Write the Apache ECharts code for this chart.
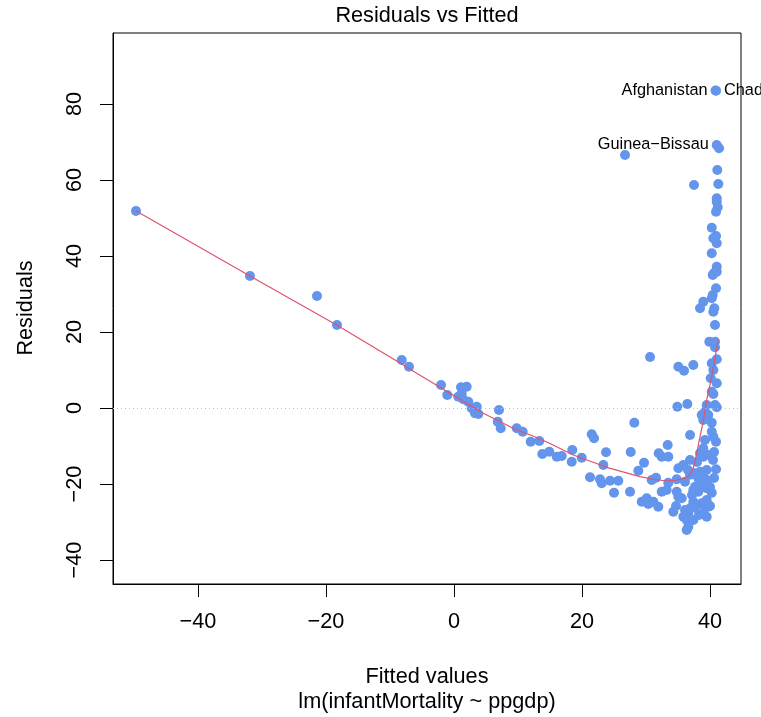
<!DOCTYPE html>
<html>
<head>
<meta charset="utf-8">
<script src="https://cdn.jsdelivr.net/npm/echarts@6/dist/echarts.min.js"></script>
<style>
  html, body { margin: 0; padding: 0; background: #fff; }
  #chart { width: 761px; height: 717px; }
</style>
</head>
<body>
<div id="chart"></div>
<script>
// Residuals vs fitted values for lm(infantMortality ~ ppgdp)

// Fitted values (x) and residuals (y) of the unlabelled observations
const fittedVals = [
  -49.69, -31.88, -21.41, -18.28, -8.17, -7.03, -2.03, -1.05, 1.09, 1.98,
  0.67, 1.20, 1.45, 2.23, 2.77, 3.55, 3.28, 3.80, 7.03, 6.83,
  7.30, 9.80, 10.73, 11.98, 13.33, 13.80, 14.89, 16.05, 16.83, 18.48,
  18.39, 19.95, 21.52, 21.88, 23.75, 23.33, 21.25, 22.81, 23.08, 24.38,
  25.67, 25.00, 27.50, 28.17, 27.61, 29.69, 28.80, 30.89, 31.56, 31.98,
  32.45, 33.48, 33.39, 29.33, 30.36, 31.14, 31.92, 32.45, 33.23, 33.48,
  34.80, 34.80, 35.05, 35.58, 34.27, 34.69, 34.89, 36.45, 36.88, 35.05,
  35.83, 36.88, 35.83, 36.61, 36.09, 36.88, 36.36, 36.61, 37.39, 37.39,
  38.70, 39.73, 38.95, 39.48, 37.39, 38.17, 40.27, 37.66, 38.70, 39.48,
  37.66, 38.17, 38.95, 39.48, 36.09, 40.94, 39.22, 38.95, 38.44, 40.27,
  40.52, 40.94, 38.95, 40.27, 38.70, 39.73, 39.48, 40.78, 41.05, 40.27,
  40.52, 40.11, 41.05, 40.52, 41.05, 40.27, 35.05, 35.94, 37.39, 39.89,
  40.78, 40.78, 40.78, 40.67, 40.52, 38.95, 38.44, 40.42, 40.27, 40.94,
  40.42, 41.05, 40.63, 41.05, 40.27, 40.94, 40.52, 41.05, 40.27, 41.20,
  40.94, 41.05, 41.05, 41.30, 37.50, 41.14, 41.41, 26.72, 30.63,
  38.95, 39.22, 30.11, 38.44, 36.88, 38.44, 39.48, 37.66, 38.95, 39.48,
  40.00, 36.36, 36.56, 37.19, 37.97, 39.84, 40.47, 40.63, 40.00, 38.28,
  40.63
];
const residVals = [
  51.84, 34.74, 29.47, 21.84, 12.63, 10.87, 6.05, 3.42, 5.45, 5.61,
  2.97, 3.87, 2.29, 1.66, -0.08, 0.34, -1.39, -1.58, -0.53, -3.61,
  -5.34, -5.34, -6.24, -8.87, -8.68, -12.11, -11.50, -12.82, -12.63, -11.05,
  -14.13, -13.08, -6.92, -7.97, -11.66, -15.00, -18.24, -18.76, -19.82, -19.13,
  -19.13, -22.29, -22.03, -3.87, -11.58, -14.39, -16.50, -18.95, -18.34, -11.92,
  -12.82, -12.82, -9.74, -24.66, -25.26, -24.66, -25.97, -22.03, -21.58, -19.66,
  -18.76, -22.03, -23.34, -23.76, -27.29, -25.79, 0.34, 1.05, -7.11, -15.87,
  -15.00, -13.68, -28.61, -27.71, -26.84, -26.39, -32.11, -31.24, -29.47, -24.66,
  -25.08, -25.97, -27.71, -28.61, -21.58, -22.03, -22.29, -20.71, -20.26, -21.13,
  -17.18, -18.50, -18.08, -18.95, -19.39, -16.13, -8.42, -10.61, -11.92, -6.24,
  -7.55, -8.87, -3.16, -3.87, -1.84, -1.84, 0.79, 0.79, 0.18, 4.29,
  3.68, 7.82, 6.50, 10.00, 12.82, 11.76, 10.87, 9.82, 11.32, 17.45,
  17.45, 15.97, 21.84, 26.24, 25.34, 27.97, 26.24, 29.74, 28.87, 31.50,
  35.00, 35.87, 35.50, 37.18, 40.71, 45.26, 44.66, 43.34, 47.45, 52.82,
  51.66, 55.18, 54.29, 58.95, 58.68, 62.63, 68.34, 66.58, 13.42,
  -12.82, -0.97, -23.76, -19.39, -17.55, -16.76, -16.32, -26.24, -25.53, -24.21,
  -25.79, -29.47, -16.32, -22.89, -14.21, -12.37, -13.68, -18.42, -20.79, -28.16,
  -11.58
];

// Observations with the largest residuals, named next to their points
const idNames = ['Afghanistan', 'Chad', 'Guinea\u2212Bissau'];
const idFitted = [40.86, 40.94, 41.05];
const idResid = [83.55, 83.50, 69.21];
const idSide = ['left', 'right', 'left'];

// Lowess smooth of residuals against fitted values
const smoothX = [
  -49.73, -31.88, -18.33, -9.22, -5.83, -0.63, 4.58, 9.80, 12.34, 15.00,
  18.64, 23.86, 29.06, 31.14, 33.23, 34.80, 36.09, 36.77, 37.30, 37.66,
  38.02, 38.44, 38.98, 39.48, 40.16, 41.30
];
const smoothY = [
  51.92, 34.74, 21.84, 12.63, 9.13, 3.87, -1.39, -5.79, -7.37, -9.34,
  -12.37, -15.61, -18.08, -18.76, -19.21, -18.95, -18.50, -17.63, -16.32, -14.13,
  -11.05, -7.55, -3.16, 2.11, 7.37, 18.08
];

// Axis ticks
const xTicks = [-40, -20, 0, 20, 40];
const yTicks = [-40, -20, 0, 20, 40, 60, 80];

const FONT = '"Liberation Sans", Arial, Helvetica, sans-serif';
const POINT = '#6495ED';
const SMOOTH = '#DF536B';

const minusSign = v => String(v).replace('-', '\u2212');

const chart = echarts.init(document.getElementById('chart'), null, { renderer: 'canvas' });

const pointData = fittedVals.map((x, i) => [x, residVals[i]]);
const idData = idNames.map((name, i) => ({
  value: [idFitted[i], idResid[i]],
  label: {
    show: true,
    position: idSide[i],
    distance: 3,
    formatter: name,
    fontFamily: FONT,
    fontSize: 16.3,
    color: '#000'
  }
}));
const smoothData = smoothX.map((x, i) => [x, smoothY[i]]);

chart.setOption({
  animation: false,
  backgroundColor: '#fff',
  grid: {
    left: 113, right: 20, top: 33, bottom: 133,
    show: true, borderColor: '#000', borderWidth: 1, backgroundColor: 'transparent'
  },
  xAxis: {
    type: 'value',
    min: -53.28, max: 44.84,
    splitLine: { show: false },
    axisLine: { show: true, onZero: false, lineStyle: { color: '#000', width: 1 } },
    axisTick: { show: true, customValues: xTicks, length: 13, lineStyle: { color: '#000', width: 1 } },
    axisLabel: {
      customValues: xTicks, margin: 27, color: '#000',
      fontFamily: FONT, fontSize: 21.7, formatter: minusSign
    }
  },
  yAxis: {
    type: 'value',
    min: -46.32, max: 98.68,
    splitLine: { show: false },
    axisLine: { show: true, onZero: false, lineStyle: { color: '#000', width: 1 } },
    axisTick: { show: true, customValues: yTicks, length: 13, lineStyle: { color: '#000', width: 1 } },
    axisLabel: {
      customValues: yTicks, margin: 27, rotate: 90, color: '#000',
      fontFamily: FONT, fontSize: 21.7, formatter: minusSign
    }
  },
  series: [
    {
      type: 'scatter',
      data: pointData,
      symbol: 'circle',
      symbolSize: 10,
      itemStyle: { color: POINT, opacity: 1 },
      emphasis: { disabled: true },
      silent: true,
      markLine: {
        silent: true,
        symbol: ['none', 'none'],
        label: { show: false },
        lineStyle: { color: '#BEBEBE', type: [1, 3], width: 1 },
        data: [{ yAxis: 0 }]
      },
      z: 2
    },
    {
      type: 'scatter',
      data: idData,
      symbol: 'circle',
      symbolSize: 10,
      itemStyle: { color: POINT, opacity: 1 },
      emphasis: { disabled: true },
      silent: true,
      z: 3
    },
    {
      type: 'line',
      data: smoothData,
      showSymbol: false,
      smooth: false,
      lineStyle: { color: SMOOTH, width: 1.2 },
      emphasis: { disabled: true },
      silent: true,
      z: 4
    }
  ],
  graphic: [
    {
      type: 'text', x: 427, y: 16,
      style: { text: 'Residuals vs Fitted', font: '21.7px ' + FONT, fill: '#000', align: 'center', verticalAlign: 'middle' }
    },
    {
      type: 'text', x: 427, y: 677,
      style: { text: 'Fitted values', font: '21.7px ' + FONT, fill: '#000', align: 'center', verticalAlign: 'middle' }
    },
    {
      type: 'text', x: 427, y: 702,
      style: { text: 'lm(infantMortality ~ ppgdp)', font: '21.7px ' + FONT, fill: '#000', align: 'center', verticalAlign: 'middle' }
    },
    {
      type: 'text', x: 26, y: 308, rotation: Math.PI / 2,
      style: { text: 'Residuals', font: '21.7px ' + FONT, fill: '#000', align: 'center', verticalAlign: 'middle' }
    }
  ]
});
</script>
</body>
</html>
